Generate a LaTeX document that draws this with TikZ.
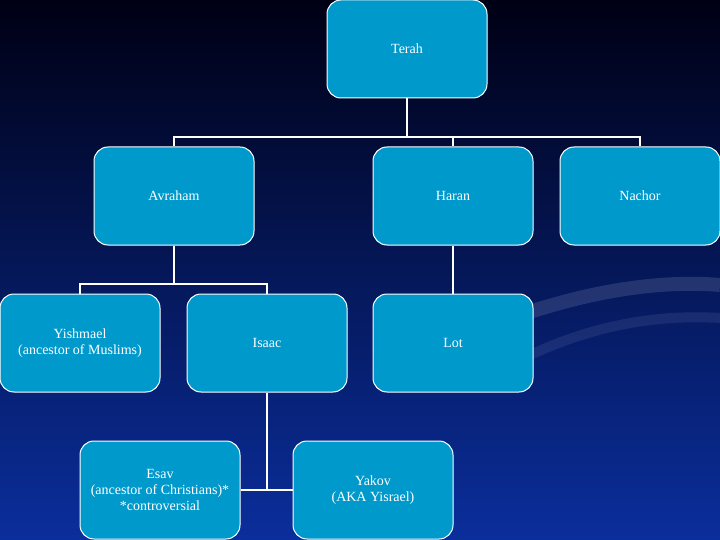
\documentclass[tikz,border=0pt]{standalone}
\usepackage{fontspec}
\setmainfont{Liberation Serif}
\begin{document}
\begin{tikzpicture}[x=1pt,y=-1pt,
  box/.style={draw=white,line width=1pt,fill={rgb,255:red,0;green,153;blue,204},rounded corners=14pt,
    minimum width=160pt,minimum height=98pt,text=white,align=center,font=\fontsize{14}{16}\selectfont,inner sep=0pt},
  link/.style={draw=white,line width=2pt}]
\shade[top color={rgb,255:red,0;green,0;blue,20},bottom color={rgb,255:red,10;green,46;blue,156}] (0,0) rectangle (720,540);
\useasboundingbox (0,0) rectangle (720,540);
\draw[white,opacity=0.12,line width=14pt] (480,330) .. controls (580,290) and (660,280) .. (720,285);
\draw[white,opacity=0.08,line width=10pt] (520,360) .. controls (600,320) and (670,315) .. (720,318);
\node[box] (terah) at (407,49) {Terah};
\node[box] (avraham) at (174,196) {Avraham};
\node[box] (haran) at (453,196) {Haran};
\node[box] (nachor) at (640,196) {Nachor};
\node[box] (yish) at (80,343) {Yishmael\\(ancestor of Muslims)};
\node[box] (isaac) at (267,343) {Isaac};
\node[box] (lot) at (453,343) {Lot};
\node[box] (esav) at (160,490) {Esav\\(ancestor of Christians)*\\*controversial};
\node[box] (yakov) at (373,490) {Yakov\\(AKA Yisrael)};
\coordinate (t1) at (407,137);
\coordinate (a1) at (174,284);
\coordinate (i1) at (267,490);
\draw[link] (terah.south) -- (t1);
\draw[link] (avraham.north) |- (t1) -| (nachor.north);
\draw[link] (t1) -| (haran.north);
\draw[link] (avraham.south) -- (a1);
\draw[link] (yish.north) |- (a1) -| (isaac.north);
\draw[link] (haran.south) -- (lot.north);
\draw[link] (isaac.south) -- (i1);
\draw[link] (esav.east) -- (yakov.west);
\end{tikzpicture}
\end{document}
